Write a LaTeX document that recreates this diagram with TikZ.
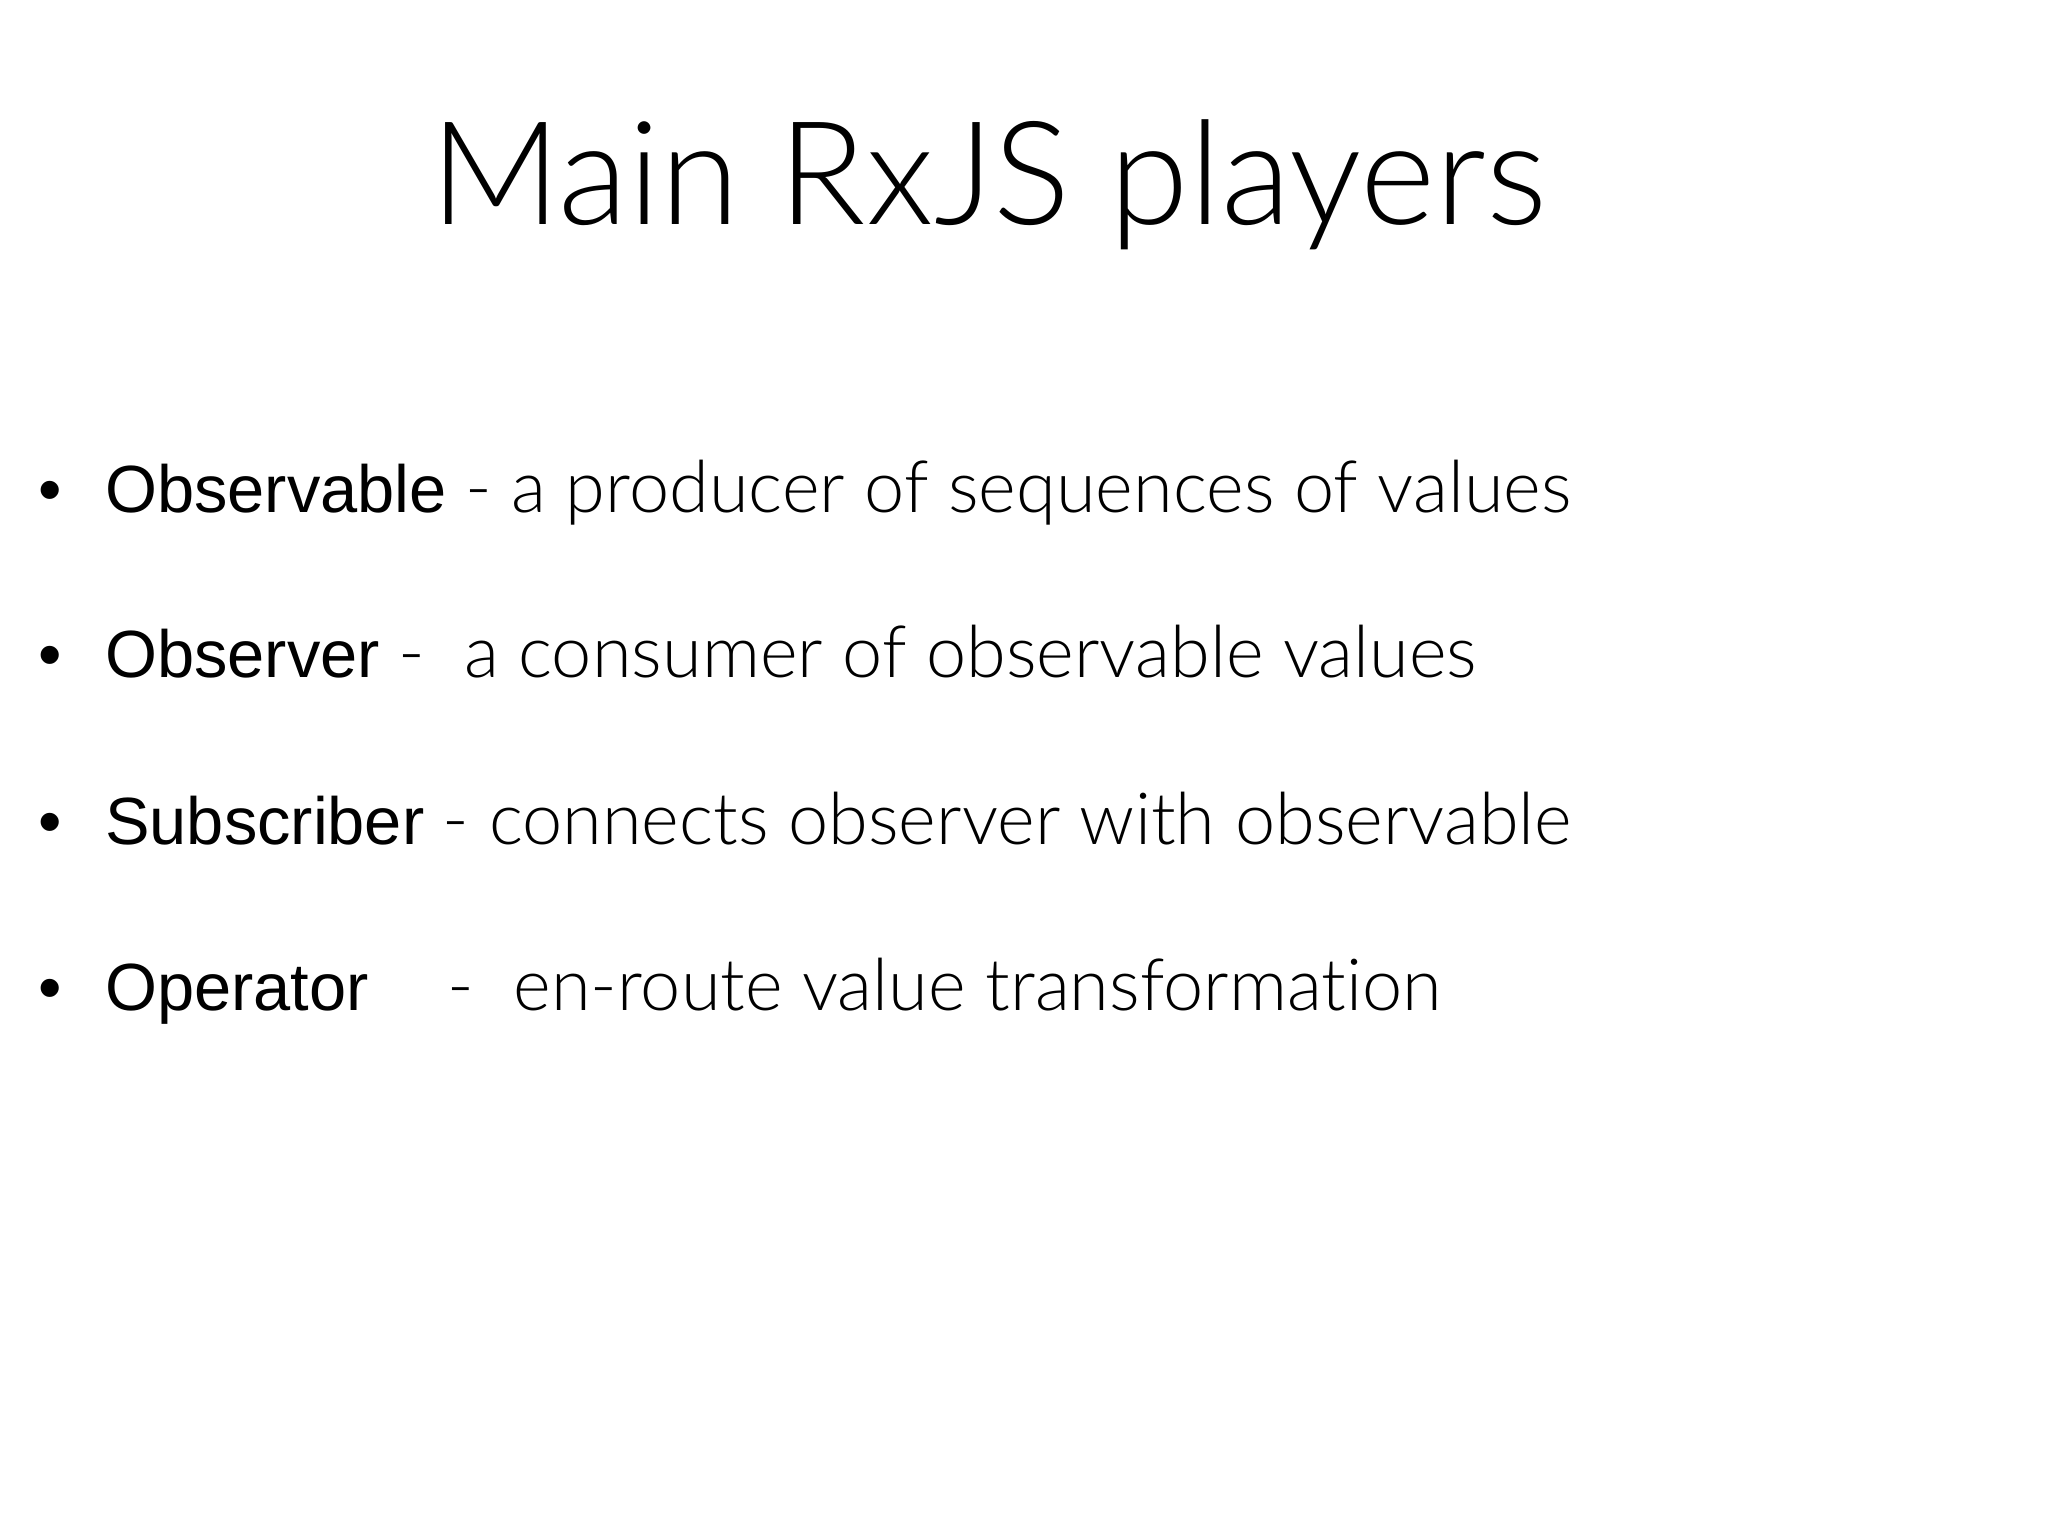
\documentclass[tikz,border=0pt]{standalone}
\usepackage{fontspec}
\setmainfont{Liberation Sans}
\newfontfamily\lightf[Ligatures=NoCommon]{Lato Light}
\newcommand{\lt}[1]{{\lightf\fontsize{20.5}{22}\selectfont #1}}
\begin{document}
\begin{tikzpicture}[x=1cm,y=1cm,
  row/.style={anchor=base west,inner sep=0pt,font=\fontsize{19}{22}\selectfont},
  blt/.style={anchor=base,inner sep=0pt,font=\fontsize{19}{22}\selectfont}]
\useasboundingbox (0,0) rectangle (20.48,-15.36);
\node[anchor=base,inner sep=0pt,font=\lightf\fontsize{41}{48}\selectfont] (title) at (9.886,-2.246) {Main RxJS players};
\node[blt] (b1) at (0.50,-5.12) {•};
\node[row] (r1) at (1.045,-5.12) {Observable \lt{- a producer of sequences of values}};
\node[blt] (b2) at (0.50,-6.78) {•};
\node[row] (r2) at (1.045,-6.78) {Observer \lt{-\ \ a consumer of observable values}};
\node[blt] (b3) at (0.50,-8.44) {•};
\node[row] (r3) at (1.045,-8.44) {Subscriber \lt{- connects observer with observable}};
\node[blt] (b4) at (0.50,-10.10) {•};
\node[row] (r4) at (1.045,-10.10) {Operator};
\node[row] (r4d) at (4.47,-10.10) {\lt{-\ \ en-route value transformation}};
\end{tikzpicture}
\end{document}
